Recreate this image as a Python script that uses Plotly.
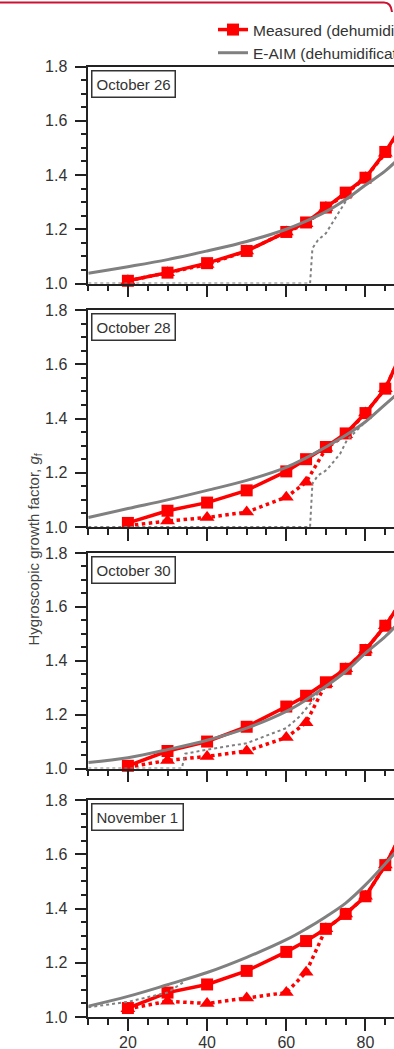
import plotly.graph_objects as go

# Relative humidity steps of the HTDMA scans (%)
rh = [20, 30, 40, 50, 60, 65, 70, 75, 80, 85, 90]

panel_titles = ["October 26", "October 28", "October 30", "November 1"]

# Measured growth factors, dehumidification (squares) and humidification (triangles)
oct26_dehum = [1.01, 1.04, 1.075, 1.12, 1.19, 1.225, 1.28, 1.335, 1.39, 1.485, 1.60]
oct26_hum = [1.01, 1.04, 1.07, 1.12, 1.19, 1.22, 1.28, 1.33, 1.39, 1.48, 1.60]
oct28_dehum = [1.015, 1.06, 1.09, 1.135, 1.205, 1.25, 1.295, 1.345, 1.42, 1.51, 1.67]
oct28_hum = [1.005, 1.022, 1.035, 1.055, 1.11, 1.165, 1.29, 1.34, 1.42, 1.51, 1.67]
oct30_dehum = [1.01, 1.065, 1.10, 1.155, 1.23, 1.27, 1.32, 1.37, 1.44, 1.53, 1.64]
oct30_hum = [1.005, 1.03, 1.045, 1.065, 1.115, 1.17, 1.315, 1.37, 1.44, 1.53, 1.64]
nov01_dehum = [1.033, 1.09, 1.12, 1.17, 1.24, 1.28, 1.325, 1.38, 1.445, 1.56, 1.70]
nov01_hum = [1.03, 1.058, 1.05, 1.07, 1.09, 1.165, 1.325, 1.38, 1.445, 1.56, 1.70]

# E-AIM model, dehumidification branch
eaim_rh = [10, 20, 30, 40, 50, 60, 65, 70, 75, 80, 85, 88]
oct26_eaim_dehum = [1.038, 1.062, 1.088, 1.12, 1.155, 1.20, 1.23, 1.265, 1.31, 1.363, 1.415, 1.455]
oct28_eaim_dehum = [1.035, 1.068, 1.10, 1.135, 1.172, 1.22, 1.255, 1.295, 1.338, 1.388, 1.452, 1.49]
oct30_eaim_dehum = [1.022, 1.04, 1.07, 1.105, 1.15, 1.212, 1.255, 1.305, 1.36, 1.428, 1.49, 1.535]
nov01_eaim_dehum = [1.04, 1.076, 1.119, 1.164, 1.22, 1.285, 1.325, 1.37, 1.42, 1.487, 1.565, 1.615]

# E-AIM model, humidification branch (deliquescence step)
oct26_eaim_hum_rh = [10, 66.0, 66.6, 68, 70, 72, 73.6, 75.3, 80, 85, 88]
oct26_eaim_hum = [1.0, 1.0, 1.13, 1.16, 1.185, 1.23, 1.27, 1.31, 1.363, 1.415, 1.455]
oct28_eaim_hum_rh = [10, 66.0, 66.6, 68, 70.2, 72, 73.6, 75.3, 80, 85, 88]
oct28_eaim_hum = [1.0, 1.0, 1.16, 1.19, 1.21, 1.24, 1.27, 1.32, 1.388, 1.452, 1.49]
oct30_eaim_hum_rh = [10, 33.6, 34.5, 40, 50, 60, 63.5, 66, 68.5, 70, 75, 80, 85, 88]
oct30_eaim_hum = [1.0, 1.0, 1.055, 1.07, 1.094, 1.15, 1.195, 1.24, 1.29, 1.305, 1.36, 1.428, 1.49, 1.535]
nov01_eaim_hum_rh = [10, 20, 30, 34]
nov01_eaim_hum = [1.036, 1.056, 1.09, 1.128]

panels = [
    (oct26_dehum, oct26_hum, oct26_eaim_dehum, oct26_eaim_hum_rh, oct26_eaim_hum),
    (oct28_dehum, oct28_hum, oct28_eaim_dehum, oct28_eaim_hum_rh, oct28_eaim_hum),
    (oct30_dehum, oct30_hum, oct30_eaim_dehum, oct30_eaim_hum_rh, oct30_eaim_hum),
    (nov01_dehum, nov01_hum, nov01_eaim_dehum, nov01_eaim_hum_rh, nov01_eaim_hum),
]

W, H = 394, 1049
RED = "#ff0000"
GREY = "#808080"
AXC = "#222222"
TXT = "#333333"
FONT = "Liberation Sans, Arial, sans-serif"

# vertical pixel extents (top, bottom) of each panel
panel_px = [(66.5, 283.5), (310, 527), (553, 768.5), (800, 1017)]
x_left_px = 88.3

fig = go.Figure()

for i, (dehum, hum, e_de, e_hum_rh, e_hum) in enumerate(panels):
    sfx = "" if i == 0 else str(i + 1)
    xa, ya = "x" + sfx, "y" + sfx
    first = i == 0
    fig.add_trace(go.Scatter(
        x=rh, y=hum, xaxis=xa, yaxis=ya, mode="lines+markers",
        name="Measured (humidification)", showlegend=False, cliponaxis=False,
        line=dict(color=RED, width=3.5, dash="dot"),
        marker=dict(symbol="triangle-up", size=13, color=RED)))
    fig.add_trace(go.Scatter(
        x=rh, y=dehum, xaxis=xa, yaxis=ya, mode="lines+markers",
        name="Measured (dehumidification)", showlegend=first, cliponaxis=False,
        line=dict(color=RED, width=3.5),
        marker=dict(symbol="square", size=12, color=RED)))
    fig.add_trace(go.Scatter(
        x=e_hum_rh, y=e_hum, xaxis=xa, yaxis=ya, mode="lines",
        name="E-AIM (humidification)", showlegend=False,
        line=dict(color=GREY, width=2, dash="dot")))
    fig.add_trace(go.Scatter(
        x=eaim_rh, y=e_de, xaxis=xa, yaxis=ya, mode="lines",
        name="E-AIM (dehumidification)", showlegend=first,
        line=dict(color=GREY, width=3, shape="spline", smoothing=1)))

    top, bot = panel_px[i]
    last = i == len(panels) - 1
    fig.layout["xaxis" + sfx] = dict(
        domain=[x_left_px / W, 1.0], anchor=ya, range=[10, 87.2],
        showgrid=False, zeroline=False, showline=True, mirror=True,
        linecolor=AXC, linewidth=1.5,
        ticks="outside", tick0=0, dtick=20, ticklen=12, tickwidth=1.5, tickcolor=AXC,
        minor=dict(ticks="outside", tick0=0, dtick=5, ticklen=6, tickwidth=1.5, tickcolor=AXC),
        showticklabels=last, ticklabelstandoff=-2,
        tickfont=dict(family=FONT, size=16, color=TXT),
    )
    fig.layout["yaxis" + sfx] = dict(
        domain=[1 - bot / H, 1 - top / H], anchor=xa, range=[1.0, 1.8],
        showgrid=False, zeroline=False, showline=True, linecolor=AXC, linewidth=1.5,
        ticks="outside", tick0=1.0, dtick=0.2, ticklen=12, tickwidth=1.5, tickcolor=AXC,
        minor=dict(ticks="outside", tick0=1.0, dtick=0.05, ticklen=6, tickwidth=1.5, tickcolor=AXC),
        tickformat=".1f", ticklabelstandoff=4,
        tickfont=dict(family=FONT, size=16, color=TXT),
    )
    fig.add_annotation(
        text=panel_titles[i], xref=xa + " domain", yref=ya + " domain",
        x=0.008, y=0.986, xanchor="left", yanchor="top", showarrow=False,
        font=dict(family=FONT, size=15, color=TXT),
        bgcolor="white", bordercolor="#333333", borderwidth=1.5, borderpad=4)

# shared y-axis title
fig.add_annotation(
    text="Hygroscopic growth factor, <i>g</i><sub>f</sub>",
    xref="paper", yref="paper", x=22 / W, y=1 - 550 / H, textangle=-90,
    showarrow=False, font=dict(family=FONT, size=15, color="#444444"))

# frame edge along the top
fig.add_shape(
    type="path", xref="paper", yref="paper",
    path=f"M 0 {1 - 2.5 / H} L {384 / W} {1 - 2.5 / H} Q {391 / W} {1 - 2.5 / H} {392 / W} {1 - 12 / H}",
    line=dict(color="#cc1133", width=2))

fig.update_layout(
    width=W, height=H,
    margin=dict(l=0, r=0, t=0, b=0, autoexpand=False),
    paper_bgcolor="white", plot_bgcolor="white",
    legend=dict(x=213 / W, y=1 - 13 / H, xanchor="left", yanchor="top",
                bgcolor="rgba(0,0,0,0)", font=dict(family=FONT, size=15.5, color=TXT),
                tracegroupgap=0),
)

fig.write_html("out.html")
